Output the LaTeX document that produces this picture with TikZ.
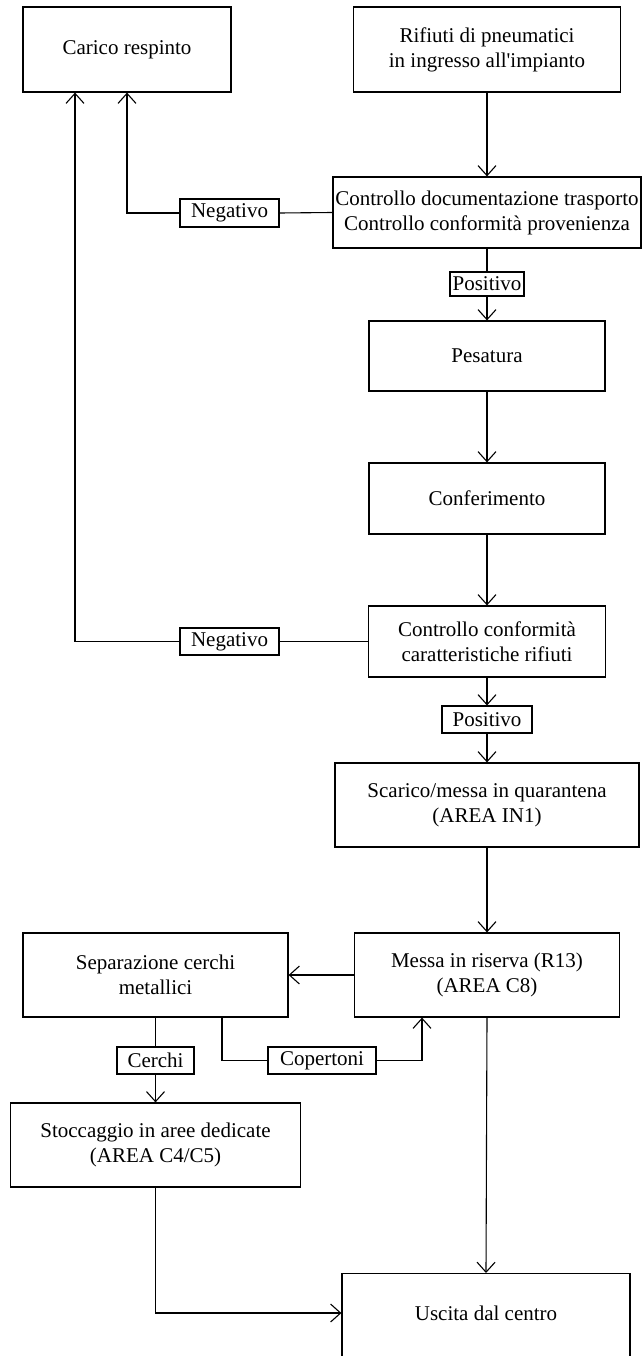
\documentclass[tikz,border=0pt]{standalone}
\usepackage{fontspec}
\setmainfont{Liberation Serif}
\usetikzlibrary{arrows.meta}
\begin{document}
\begin{tikzpicture}[x=1pt,y=-1pt,
  txt/.style={font=\fontsize{21}{25}\selectfont},
  box/.style={draw, line width=1.2pt, align=center, inner sep=0pt, txt},
  tag/.style={draw, line width=1.1pt, inner sep=0pt, txt},
  link/.style={line width=1.1pt},
  flow/.style={link, -{Straight Barb[length=10pt,width=18pt,line width=1.1pt]}}]
\useasboundingbox (0,0) rectangle (642,1356);
\clip (0,0) rectangle (642,1356);

% process boxes
\node[box, minimum width=208, minimum height=85] (carico) at (127,49.5) {Carico respinto};
\node[box, minimum width=267, minimum height=85] (rifiuti) at (487,49.5) {Rifiuti di pneumatici\\in ingresso all\textquotesingle impianto};
\node[box, minimum width=308, minimum height=71] (ctrl1) at (487,212.5) {Controllo documentazione trasporto\\Controllo conformità provenienza};
\node[box, minimum width=236, minimum height=70] (pesatura) at (487,356) {Pesatura};
\node[box, minimum width=236, minimum height=71] (conferimento) at (487,498.5) {Conferimento};
\node[box, minimum width=237, minimum height=71] (ctrl2) at (487,641.5) {Controllo conformità\\caratteristiche rifiuti};
\node[box, minimum width=304, minimum height=84] (scarico) at (487,805) {Scarico/messa in quarantena\\(AREA IN1)};
\node[box, minimum width=265, minimum height=84] (messa) at (487,975) {Messa in riserva (R13)\\(AREA C8)};
\node[box, minimum width=265, minimum height=84] (separa) at (155.5,975) {Separazione cerchi\\metallici};
\node[box, minimum width=290, minimum height=84] (stoccaggio) at (155.5,1145) {Stoccaggio in aree dedicate\\(AREA C4/C5)};
\node[box, minimum width=288, minimum height=130, anchor=north] (uscita) at (486,1273) {};
\node[txt, inner sep=0pt] (uscitatxt) at (486,1313) {Uscita dal centro};

% branch labels
\node[tag, minimum width=99, minimum height=28] (neg1) at (229.5,213) {Negativo};
\node[tag, minimum width=74, minimum height=24] (pos1) at (487,284) {Positivo};
\node[tag, minimum width=99, minimum height=27] (neg2) at (229.5,641.5) {Negativo};
\node[tag, minimum width=90, minimum height=27] (pos2) at (487,719.5) {Positivo};
\node[tag, minimum width=77, minimum height=27] (cerchi) at (155.5,1060.5) {Cerchi};
\node[tag, minimum width=108, minimum height=27] (copertoni) at (322,1060.5) {Copertoni};

% columns of the return and side lines
\coordinate (back2) at (75,0);
\coordinate (copx) at (222,0);
\coordinate (retx) at (422,0);

% connectors
\draw[flow] (rifiuti.south) -- (ctrl1.north);
\draw[link] (ctrl1.west) -- (neg1.east);
\draw[flow] (neg1.west) -| (carico.south);
\draw[link] (ctrl1.south) -- (pos1.north);
\draw[flow] (pos1.south) -- (pesatura.north);
\draw[flow] (pesatura.south) -- (conferimento.north);
\draw[flow] (conferimento.south) -- (ctrl2.north);
\draw[link] (ctrl2.west) -- (neg2.east);
\draw[flow] (neg2.west) -| (back2 |- carico.south);
\draw[flow] (ctrl2.south) -- (pos2.north);
\draw[flow] (pos2.south) -- (scarico.north);
\draw[flow] (scarico.south) -- (messa.north);
\draw[flow] (messa.west) -- (separa.east);
\draw[link] (separa.south) -- (cerchi.north);
\draw[flow] (cerchi.south) -- (stoccaggio.north);
\draw[link] (copx |- separa.south) |- (copertoni.west);
\draw[flow] (copertoni.east) -| (retx |- messa.south);
\draw[flow] (messa.south) -- (uscita.north);
\draw[flow] (stoccaggio.south) |- (uscita.west |- uscitatxt);
\end{tikzpicture}
\end{document}
